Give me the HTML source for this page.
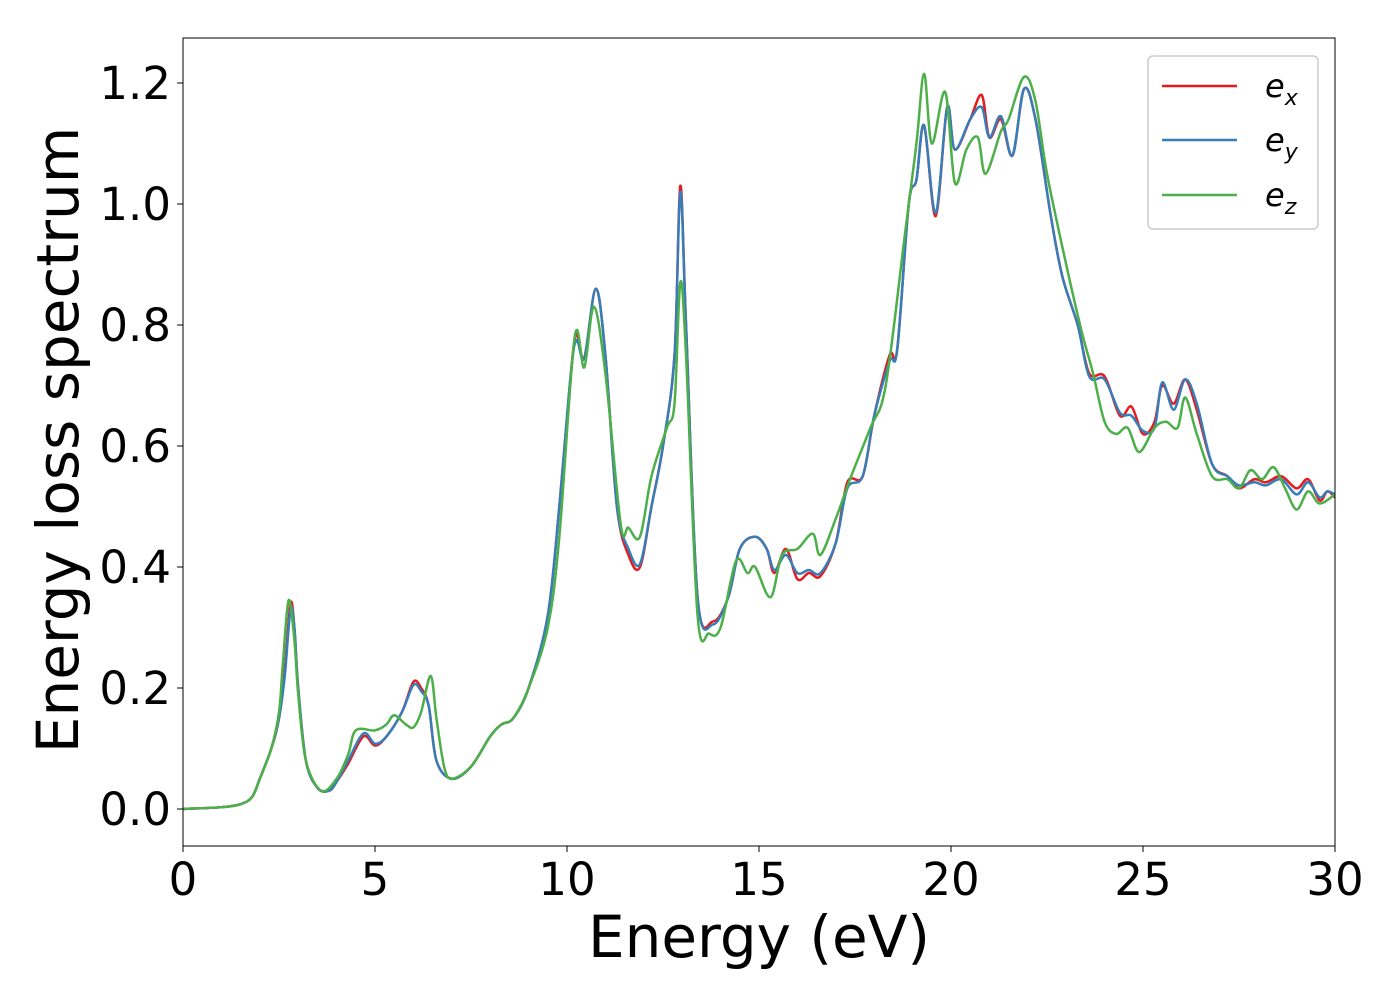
<!DOCTYPE html>
<html><head><meta charset="utf-8"><style>
html,body{margin:0;padding:0;background:#fff;}
svg{display:block;font-family:"DejaVu Sans","Liberation Sans",sans-serif;}
</style></head><body>
<svg id="chart" width="1400" height="1000">
<rect x="0" y="0" width="1400" height="1000" fill="#fff"/>
<g id="plot"></g>
<g id="axes"></g>
<text x="759" y="957" font-size="58" text-anchor="middle">Energy (eV)</text>
<text transform="translate(78,440) rotate(-90)" font-size="58" text-anchor="middle">Energy loss spectrum</text>
<g>
<rect x="1148" y="56" width="170" height="173" rx="5" fill="#fff" stroke="#ccc" stroke-width="1.5"/>
<g><line x1="1162" y1="86" x2="1237" y2="86" stroke="#e41a1c" stroke-width="2.5"/><text x="1265" y="97" font-size="32" font-style="italic">e<tspan font-size="22" dy="8">x</tspan></text></g>
<g><line x1="1162" y1="140" x2="1237" y2="140" stroke="#377eb8" stroke-width="2.5"/><text x="1265" y="151" font-size="32" font-style="italic">e<tspan font-size="22" dy="8">y</tspan></text></g>
<g><line x1="1162" y1="195" x2="1237" y2="195" stroke="#4daf4a" stroke-width="2.5"/><text x="1265" y="206" font-size="32" font-style="italic">e<tspan font-size="22" dy="8">z</tspan></text></g>
</g>
</svg>
<script>
const exE=[0,1,1.5,1.8,2.0,2.3,2.5,2.65,2.8,2.9,3.0,3.2,3.5,3.8,4.0,4.3,4.7,5.0,5.3,5.7,6.0,6.2,6.4,6.6,7.0,7.5,8.0,8.3,8.6,9.0,9.5,9.8,10.1,10.25,10.45,10.75,11.0,11.3,11.6,11.9,12.2,12.5,12.8,12.95,13.1,13.4,13.8,14.2,14.5,14.9,15.2,15.4,15.7,16.0,16.3,16.6,17.0,17.3,17.7,18.0,18.4,18.6,18.9,19.1,19.3,19.6,19.9,20.1,20.5,20.8,21.0,21.3,21.6,21.9,22.2,22.6,22.9,23.3,23.6,24.0,24.4,24.7,25.0,25.3,25.5,25.8,26.1,26.4,26.8,27.2,27.5,27.9,28.2,28.6,29.0,29.3,29.6,29.8,30];
const exV=[0,0.003,0.008,0.02,0.05,0.1,0.15,0.23,0.34,0.3,0.2,0.08,0.035,0.03,0.045,0.075,0.12,0.105,0.12,0.16,0.21,0.2,0.17,0.08,0.05,0.07,0.12,0.14,0.15,0.2,0.32,0.5,0.72,0.785,0.745,0.86,0.75,0.5,0.42,0.4,0.5,0.6,0.75,1.03,0.8,0.35,0.31,0.35,0.43,0.45,0.43,0.39,0.43,0.38,0.39,0.385,0.44,0.54,0.55,0.65,0.75,0.76,1.0,1.04,1.13,0.98,1.16,1.09,1.14,1.18,1.11,1.14,1.08,1.19,1.14,0.98,0.88,0.8,0.72,0.715,0.65,0.665,0.62,0.64,0.7,0.67,0.71,0.66,0.57,0.55,0.53,0.545,0.54,0.55,0.53,0.545,0.51,0.525,0.515];
const eyE=exE;
const eyV=[0,0.003,0.008,0.02,0.05,0.1,0.15,0.22,0.33,0.3,0.2,0.08,0.035,0.03,0.045,0.08,0.125,0.108,0.12,0.16,0.205,0.195,0.17,0.08,0.05,0.07,0.12,0.14,0.15,0.2,0.32,0.5,0.72,0.775,0.745,0.86,0.75,0.5,0.43,0.405,0.5,0.6,0.75,1.02,0.8,0.35,0.305,0.35,0.43,0.45,0.43,0.395,0.42,0.39,0.395,0.39,0.44,0.53,0.55,0.65,0.74,0.76,1.0,1.04,1.13,0.985,1.16,1.09,1.14,1.16,1.11,1.145,1.08,1.19,1.14,0.98,0.88,0.8,0.715,0.71,0.655,0.65,0.625,0.63,0.705,0.66,0.71,0.67,0.57,0.55,0.535,0.54,0.535,0.545,0.52,0.54,0.515,0.525,0.52];
const ezE=[0,1,1.5,1.8,2.0,2.3,2.5,2.6,2.75,2.9,3.0,3.2,3.6,4.0,4.3,4.5,5.0,5.3,5.5,5.8,6.0,6.2,6.45,6.6,6.8,7.0,7.5,8.0,8.3,8.6,9.0,9.5,9.8,10.2,10.45,10.7,11.0,11.4,11.6,11.9,12.2,12.6,12.8,12.95,13.1,13.4,13.7,14.0,14.4,14.7,14.9,15.3,15.6,16.0,16.4,16.6,17.0,17.4,17.9,18.3,18.8,19.1,19.3,19.5,19.85,20.1,20.4,20.7,20.9,21.3,21.5,21.9,22.2,22.5,23.0,23.4,23.7,24.0,24.3,24.6,24.9,25.3,25.6,25.9,26.1,26.4,26.8,27.2,27.5,27.8,28.1,28.4,28.7,29.0,29.3,29.6,30];
const ezV=[0,0.003,0.008,0.02,0.05,0.1,0.16,0.24,0.345,0.28,0.19,0.08,0.03,0.05,0.09,0.13,0.13,0.14,0.155,0.14,0.135,0.16,0.22,0.15,0.07,0.05,0.07,0.12,0.14,0.15,0.2,0.3,0.45,0.78,0.73,0.83,0.72,0.47,0.465,0.45,0.55,0.63,0.67,0.87,0.75,0.32,0.29,0.3,0.41,0.39,0.4,0.35,0.42,0.43,0.455,0.42,0.48,0.55,0.63,0.7,0.95,1.1,1.215,1.1,1.185,1.035,1.09,1.11,1.05,1.12,1.14,1.21,1.17,1.05,0.9,0.79,0.72,0.64,0.62,0.63,0.59,0.63,0.64,0.63,0.68,0.62,0.55,0.545,0.53,0.56,0.545,0.565,0.53,0.495,0.525,0.505,0.52];
const xTicks=[0,5,10,15,20,25,30];
const yTicks=[0.0,0.2,0.4,0.6,0.8,1.0,1.2];

const L=183,R=1335,T=38,B=846;
const xs=v=>L+(v/30)*(R-L);
const ys=v=>809-v*605;
const NS="http://www.w3.org/2000/svg";
const plot=document.getElementById('plot'),axes=document.getElementById('axes');
function path(E,V){
  const p=E.map((e,i)=>[xs(e),ys(V[i])]);
  let d=`M${p[0][0]},${p[0][1]}`;
  for(let i=0;i<p.length-1;i++){
    const p0=p[Math.max(0,i-1)],p1=p[i],p2=p[i+1],p3=p[Math.min(p.length-1,i+2)];
    const c1=[p1[0]+(p2[0]-p0[0])/6,p1[1]+(p2[1]-p0[1])/6];
    const c2=[p2[0]-(p3[0]-p1[0])/6,p2[1]-(p3[1]-p1[1])/6];
    d+=` C${c1[0]},${c1[1]} ${c2[0]},${c2[1]} ${p2[0]},${p2[1]}`;
  }
  return d;
}
const clip=document.createElementNS(NS,'clipPath');clip.id='cp';
const cr=document.createElementNS(NS,'rect');cr.setAttribute('x',L);cr.setAttribute('y',T);cr.setAttribute('width',R-L);cr.setAttribute('height',B-T);
clip.appendChild(cr);plot.appendChild(clip);
[[exE,exV,'#e41a1c','series-ex'],[eyE,eyV,'#377eb8','series-ey'],[ezE,ezV,'#4daf4a','series-ez']].forEach(s=>{
  const el=document.createElementNS(NS,'path');
  el.setAttribute('d',path(s[0],s[1]));el.setAttribute('fill','none');el.setAttribute('stroke',s[2]);el.setAttribute('stroke-width','2.5');el.setAttribute('clip-path','url(#cp)');
  
  
  plot.appendChild(el);
});
const fr=document.createElementNS(NS,'rect');
fr.setAttribute('x',L);fr.setAttribute('y',T);fr.setAttribute('width',R-L);fr.setAttribute('height',B-T);fr.setAttribute('fill','none');fr.setAttribute('stroke','#000');fr.setAttribute('stroke-width','1');


axes.appendChild(fr);
xTicks.forEach(t=>{
  const ln=document.createElementNS(NS,'line');ln.setAttribute('x1',xs(t));ln.setAttribute('x2',xs(t));ln.setAttribute('y1',B);ln.setAttribute('y2',B+6);ln.setAttribute('stroke','#000');
  
  
  axes.appendChild(ln);
  const tx=document.createElementNS(NS,'text');tx.setAttribute('x',xs(t));tx.setAttribute('y',895);tx.setAttribute('font-size','45');tx.setAttribute('text-anchor','middle');tx.textContent=t;
  
  
  axes.appendChild(tx);
});
yTicks.forEach(t=>{
  const ln=document.createElementNS(NS,'line');ln.setAttribute('x1',L-6);ln.setAttribute('x2',L);ln.setAttribute('y1',ys(t));ln.setAttribute('y2',ys(t));ln.setAttribute('stroke','#000');
  
  
  axes.appendChild(ln);
  const tx=document.createElementNS(NS,'text');tx.setAttribute('x',171);tx.setAttribute('y',ys(t)+16);tx.setAttribute('font-size','45');tx.setAttribute('text-anchor','end');tx.textContent=t.toFixed(1);
  
  
  axes.appendChild(tx);
});
</script>
</body></html>
